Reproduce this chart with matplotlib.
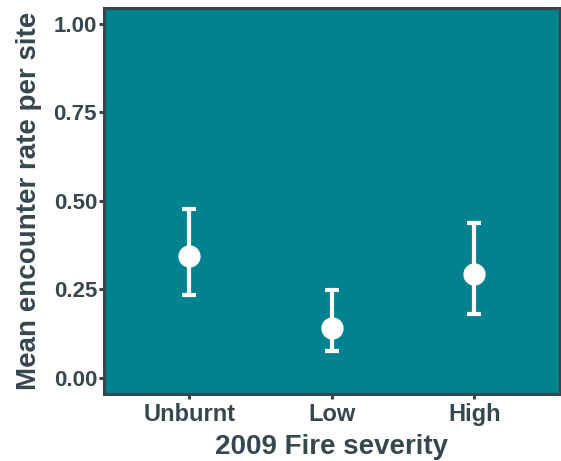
import matplotlib
matplotlib.use("Agg")
import matplotlib.pyplot as plt

# values
categories = ["Unburnt", "Low", "High"]
means = [0.345, 0.140, 0.292]
lower = [0.233, 0.075, 0.180]
upper = [0.478, 0.247, 0.438]

TEAL = "#00838F"
DARK = "#37474F"

plt.rcParams["font.family"] = ["Liberation Sans", "DejaVu Sans"]
plt.rcParams["font.weight"] = "bold"

fig = plt.figure(figsize=(5.61, 4.61), dpi=100)
ax = fig.add_axes([0.1854, 0.1464, 0.8126, 0.8362])
ax.set_facecolor(TEAL)

x = list(range(1, len(categories) + 1))
yerr = [[m - lo for m, lo in zip(means, lower)],
        [hi - m for m, hi in zip(means, upper)]]
ax.errorbar(x, means, yerr=yerr, fmt="o", color="white", ms=15,
            elinewidth=3, capsize=5, capthick=3, zorder=3)

ax.set_xlim(0.4, 3.6)
ax.set_ylim(-0.045, 1.045)
ax.set_xticks(x)
ax.set_xticklabels(categories)
ax.set_yticks([0, 0.25, 0.5, 0.75, 1.0])
ax.set_yticklabels(["0.00", "0.25", "0.50", "0.75", "1.00"])

for side in ax.spines.values():
    side.set_color(DARK)
    side.set_linewidth(2.2)
ax.tick_params(axis="both", colors=DARK, length=3.5, width=2.2)
ax.tick_params(axis="y", labelsize=16, pad=1.5)
ax.tick_params(axis="x", labelsize=17, pad=3)

ax.set_xlabel("2009 Fire severity", fontsize=20, fontweight="bold",
              color=DARK, labelpad=6)
ax.set_ylabel("Mean encounter rate per site", fontsize=20,
              fontweight="bold", color=DARK, labelpad=8)

fig.savefig("out.png", dpi=100)
